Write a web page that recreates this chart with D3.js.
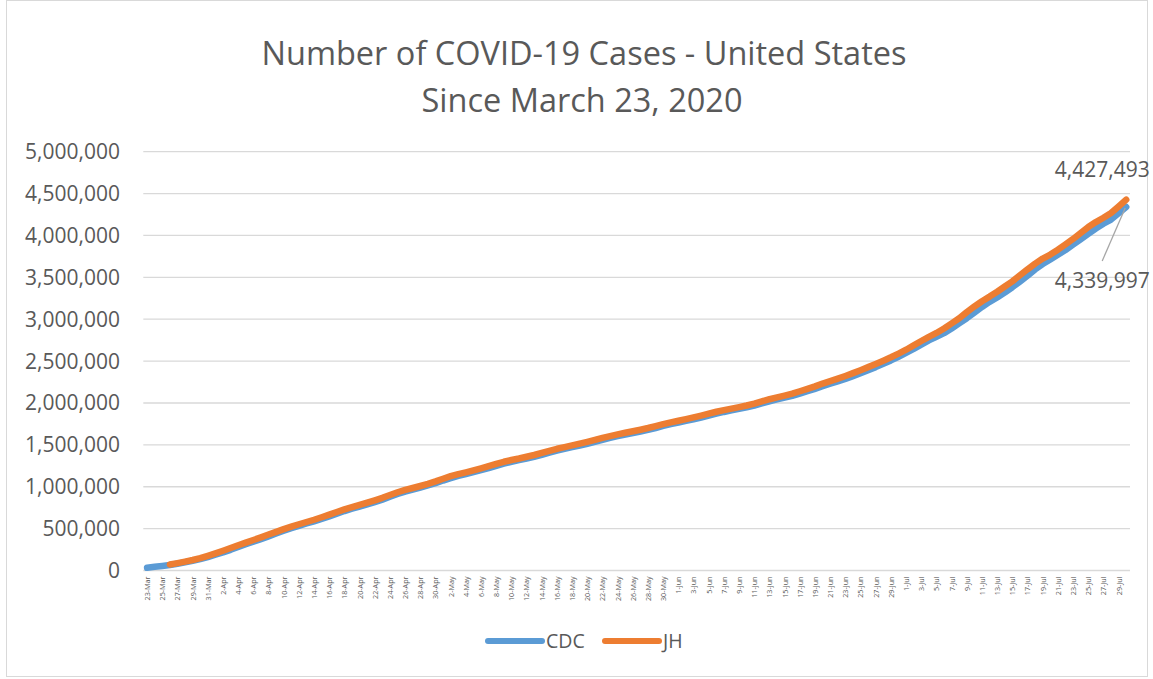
<!DOCTYPE html>
<html>
<head>
<meta charset="utf-8">
<script src="https://cdn.jsdelivr.net/npm/d3@7"></script>
<style>
  body { margin: 0; background: #fff; }
  text { font-family: "Open Sans", sans-serif; fill: #595959; }
</style>
</head>
<body>
<div id="chart"></div>
<script>
/* Number of COVID-19 cases, US, CDC vs Johns Hopkins */

var w = 1153,
	h = 679;

// categories: one per day, 23-Mar .. 30-Jul
var dates = d3.timeDay.range(new Date(2020, 2, 23), new Date(2020, 6, 31));
var fmtDay = d3.timeFormat("%-d-%b");
var days = dates.map(fmtDay);

// CDC, 23-Mar .. 30-Jul
var cdc = [
	33000, 44000, 54000, 66000, 81000, 98000, 116000, 136000, 160000,
	188000, 216000, 247000, 281000, 314000, 344000, 375000, 408000, 441000, 474000,
	505000, 533000, 561000, 587000, 615000, 645000, 678000, 710000, 738000, 764000,
	790000, 817000, 846000, 880000, 913000, 942000, 966000, 990000, 1015000, 1042000,
	1074000, 1103000, 1130000, 1152000, 1174000, 1198000, 1222000, 1250000, 1276000, 1298000,
	1318000, 1337000, 1357000, 1380000, 1406000, 1431000, 1452000, 1473000, 1492000, 1513000,
	1536000, 1560000, 1583000, 1604000, 1624000, 1642000, 1660000, 1679000, 1701000, 1726000, 1748000,
	1766000, 1787000, 1806000, 1827000, 1850000, 1872000, 1893000, 1911000, 1929000, 1948000,
	1970000, 1995000, 2020000, 2042000, 2063000, 2086000, 2112000, 2140000, 2169000, 2200000,
	2230000, 2258000, 2288000, 2321000, 2356000, 2392000, 2428000, 2468000, 2508000, 2552000,
	2598000, 2645000, 2696000, 2747000, 2790000, 2834000, 2890000, 2950000, 3012000, 3078000,
	3146000, 3207000, 3260000, 3318000, 3382000, 3450000, 3520000, 3594000, 3658000, 3714000,
	3770000, 3826000, 3890000, 3953000, 4018000, 4082000, 4140000, 4190000, 4265000, 4339997
];

// Johns Hopkins, starts 26-Mar
var jh = [
	null, null, null, 72000, 88000, 106000, 125000, 147000, 175000,
	205000, 236000, 268000, 302000, 333000, 364000, 396000, 429000, 461000, 494000,
	524000, 552000, 579000, 606000, 636000, 667000, 699000, 730000, 757000, 783000,
	810000, 838000, 868000, 902000, 934000, 962000, 985000, 1009000, 1035000, 1064000,
	1096000, 1126000, 1151000, 1172000, 1195000, 1220000, 1246000, 1273000, 1298000, 1319000,
	1337000, 1358000, 1379000, 1404000, 1429000, 1453000, 1473000, 1493000, 1514000, 1536000,
	1559000, 1583000, 1604000, 1625000, 1644000, 1662000, 1681000, 1701000, 1724000, 1748000, 1769000,
	1788000, 1808000, 1828000, 1849000, 1872000, 1895000, 1914000, 1932000, 1950000, 1970000,
	1993000, 2020000, 2045000, 2066000, 2088000, 2112000, 2140000, 2168000, 2198000, 2232000,
	2260000, 2290000, 2322000, 2356000, 2392000, 2428000, 2466000, 2505000, 2546000, 2590000,
	2636000, 2688000, 2740000, 2790000, 2836000, 2890000, 2950000, 3012000, 3085000, 3152000,
	3215000, 3270000, 3328000, 3390000, 3452000, 3524000, 3596000, 3664000, 3724000, 3772000,
	3830000, 3893000, 3958000, 4030000, 4100000, 4160000, 4212000, 4268000, 4346000, 4427493
];

var yTicks = [0, 500000, 1000000, 1500000, 2000000, 2500000, 3000000, 3500000, 4000000, 4500000, 5000000];
var tickDays = days.filter(function(d, i){ return i % 2 === 0; });

var series = [
	{ name: "CDC", values: cdc, color: "#5B9BD5" },
	{ name: "JH",  values: jh,  color: "#ED7D31" }
];

var svg = d3.select("#chart")
	.append("svg")
	.attr("width", w)
	.attr("height", h);

// outer chart border
svg.append("rect")
	.attr("x", 6.5).attr("y", 0.5)
	.attr("width", 1141).attr("height", 676)
	.style("fill", "none")
	.style("stroke", "#d9d9d9");

var x = d3.scalePoint()
	.domain(days)
	.range([143.3, 1130])
	.padding(0.5);

var y = d3.scaleLinear()
	.domain([0, 5000000])
	.range([570.5, 151.7]);

// title
svg.append("text")
	.attr("x", 584).attr("y", 65)
	.attr("text-anchor", "middle")
	.style("font-size", "32.5px")
	.text("Number of COVID-19 Cases - United States");
svg.append("text")
	.attr("x", 582).attr("y", 112)
	.attr("text-anchor", "middle")
	.style("font-size", "32.5px")
	.text("Since March 23, 2020");

// gridlines
svg.selectAll("line.grid")
	.data(yTicks.slice(1))
	.enter()
	.append("line")
	.classed("grid", true)
	.attr("x1", 143.3).attr("x2", 1130)
	.attr("y1", function(d){ return y(d); })
	.attr("y2", function(d){ return y(d); })
	.style("stroke", "#d9d9d9")
	.style("stroke-width", 1.3);

// y labels
svg.selectAll("text.ylab")
	.data(yTicks)
	.enter()
	.append("text")
	.classed("ylab", true)
	.attr("x", 120)
	.attr("y", function(d){ return y(d) + 7.5; })
	.attr("text-anchor", "end")
	.style("font-size", "21px")
	.text(d3.format(","));

// x axis
var xAxis = d3.axisBottom(x)
	.tickValues(tickDays)
	.tickSize(0)
	.tickPadding(0);

var gx = svg.append("g")
	.attr("transform", "translate(0," + y(0) + ")")
	.call(xAxis);
gx.select(".domain")
	.attr("d", "M143.3,0H1130")
	.style("stroke", "#d9d9d9")
	.style("stroke-width", 1.5);
gx.selectAll("text")
	.attr("transform", "rotate(-90)")
	.attr("x", -6).attr("y", 0).attr("dy", "0.33em")
	.attr("text-anchor", "end")
	.style("font-family", "'Open Sans', sans-serif")
	.style("font-size", "7.2px")
	.style("fill", "#595959");

// lines
var line = d3.line()
	.defined(function(d){ return d !== null; })
	.x(function(d, i){ return x(days[i]); })
	.y(function(d){ return y(d); });

svg.selectAll("path.series")
	.data(series)
	.enter()
	.append("path")
	.classed("series", true)
	.attr("d", function(d){ return line(d.values); })
	.style("fill", "none")
	.style("stroke", function(d){ return d.color; })
	.style("stroke-width", 6.5)
	.style("stroke-linecap", "round")
	.style("stroke-linejoin", "round");

// end labels
var last = days.length - 1,
	xe = x(days[last]);

svg.append("text")
	.attr("x", xe - 24).attr("y", y(jh[last]) - 23)
	.attr("text-anchor", "middle")
	.style("font-size", "21px")
	.text(d3.format(",")(jh[last]));

svg.append("line")
	.attr("x1", xe - 24).attr("y1", y(cdc[last]) + 54)
	.attr("x2", xe - 1).attr("y2", y(cdc[last]) + 1)
	.style("stroke", "#a6a6a6")
	.style("stroke-width", 1.3);

svg.append("text")
	.attr("x", xe - 24).attr("y", y(cdc[last]) + 81)
	.attr("text-anchor", "middle")
	.style("font-size", "21px")
	.text(d3.format(",")(cdc[last]));

// legend
var legend = svg.selectAll("g.legend")
	.data(series)
	.enter()
	.append("g")
	.classed("legend", true)
	.attr("transform", function(d, i){ return "translate(" + (488 + i * 117) + ",641)"; });
legend.append("line")
	.attr("x1", 0).attr("x2", 54)
	.style("stroke", function(d){ return d.color; })
	.style("stroke-width", 6)
	.style("stroke-linecap", "round");
legend.append("text")
	.attr("x", 58).attr("y", 7)
	.style("font-size", "19.5px")
	.text(function(d){ return d.name; });
</script>
</body>
</html>
